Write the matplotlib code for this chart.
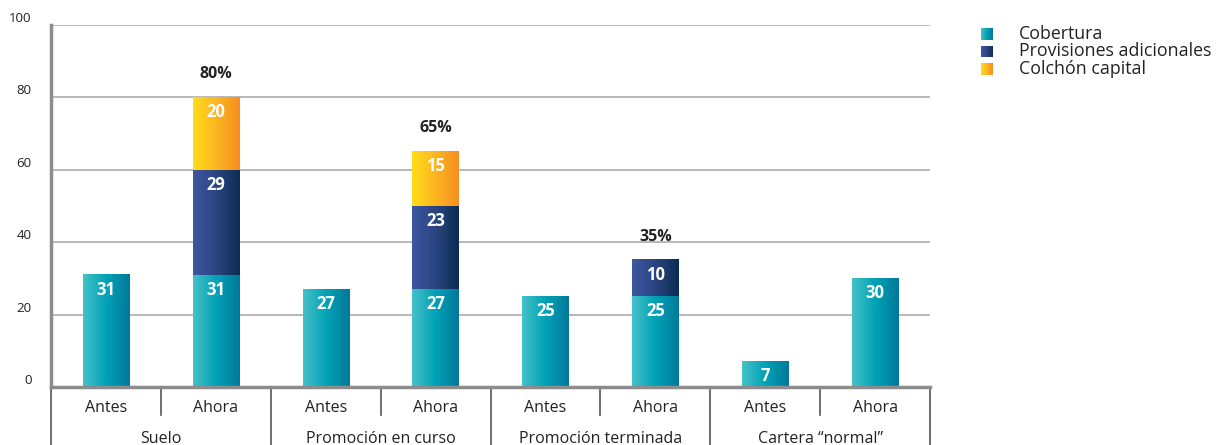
import numpy as np
import matplotlib
matplotlib.use("Agg")
import matplotlib.pyplot as plt
from matplotlib.colors import LinearSegmentedColormap
from matplotlib.transforms import blended_transform_factory

plt.rcParams['font.family'] = ['Open Sans', 'DejaVu Sans']

# data
groups = ["Suelo", "Promoción en curso", "Promoción terminada", "Cartera \u201cnormal\u201d"]
periods = ["Antes", "Ahora"]
cobertura = [31, 31, 27, 27, 25, 25, 7, 30]
provisiones = [0, 29, 0, 23, 0, 10, 0, 0]
colchon = [0, 20, 0, 15, 0, 0, 0, 0]
totals = {1: "80%", 3: "65%", 5: "35%"}
series_names = ["Cobertura", "Provisiones adicionales", "Colchón capital"]

gradients = [
    ["#45c1c8", "#00a2b6", "#00789a"],
    ["#3f56a2", "#2a4581", "#0c2c52"],
    ["#ffdc18", "#fcb622", "#f68e1f"],
]
cmaps = [LinearSegmentedColormap.from_list(f"g{i}", c) for i, c in enumerate(gradients)]
grad = np.linspace(0, 1, 256).reshape(1, -1)

fig = plt.figure(figsize=(12.24, 4.45), dpi=100)
ax = fig.add_axes([51 / 1224, 58 / 445, 879 / 1224, 362 / 445])

x = np.arange(len(cobertura))
width = 0.42
bottoms = np.zeros(len(x))
layers = [cobertura, provisiones, colchon]
for vals, cmap in zip(layers, cmaps):
    vals = np.array(vals, dtype=float)
    bars = ax.bar(x, vals, width, bottom=bottoms, color="none", edgecolor="none", zorder=3)
    for p, v in zip(bars.patches, vals):
        if v <= 0:
            continue
        x0, y0 = p.get_x(), p.get_y()
        ax.imshow(grad, cmap=cmap, aspect="auto", zorder=3,
                  extent=[x0, x0 + p.get_width(), y0, y0 + p.get_height()])
        ax.text(x0 + p.get_width() / 2, y0 + v - 1.6, f"{int(v)}", ha="center", va="top",
                color="white", fontsize=12, fontweight="bold", zorder=4)
    bottoms += vals

for i, lab in totals.items():
    ax.text(x[i], bottoms[i] + 6.5, lab, ha="center", va="center",
            color="#222222", fontsize=11.5, fontweight="bold")

ax.set_xlim(-0.5, len(x) - 0.5)
ax.set_ylim(0, 100)
ax.set_yticks([0, 20, 40, 60, 80, 100])
ax.set_xticks([])
ax.tick_params(axis="y", length=0, labelsize=9.5, pad=14, colors="#222222")
for t in ax.get_yticklabels():
    t.set_verticalalignment("bottom")
ax.grid(axis="y", color="#b8b8b8", linewidth=1.4, zorder=0)
ax.set_axisbelow(True)
for s in ["top", "right"]:
    ax.spines[s].set_visible(False)
for s in ["left", "bottom"]:
    ax.spines[s].set_color("#8c8c8c")
    ax.spines[s].set_linewidth(2.5)
    ax.spines[s].set_zorder(5)

# category axis below the plot
trans = blended_transform_factory(ax.transData, ax.transAxes)
for i in range(len(x)):
    ax.text(x[i], -0.057, periods[i % 2], transform=trans, ha="center", va="center",
            fontsize=11.5, color="#222222")
for g, name in enumerate(groups):
    ax.text(2 * g + 0.5, -0.143, name, transform=trans, ha="center", va="center",
            fontsize=11.5, color="#222222")
for k in range(len(x) + 1):
    xs = k - 0.5
    ylow = -0.2 if k % 2 == 0 else -0.078
    ax.plot([xs, xs], [0, ylow], transform=trans, color="#555555", linewidth=1.2,
            clip_on=False)

# legend
for j, (name, cmap) in enumerate(zip(series_names, cmaps)):
    yc = 34 + j * 17.5
    sq = fig.add_axes([981 / 1224, 1 - (yc + 6) / 445, 12 / 1224, 12 / 445])
    sq.imshow(grad, cmap=cmap, aspect="auto")
    sq.axis("off")
    fig.text(1019 / 1224, 1 - yc / 445, name, ha="left", va="center",
             fontsize=12.8, color="#222222")

fig.savefig("out.png", dpi=100)
